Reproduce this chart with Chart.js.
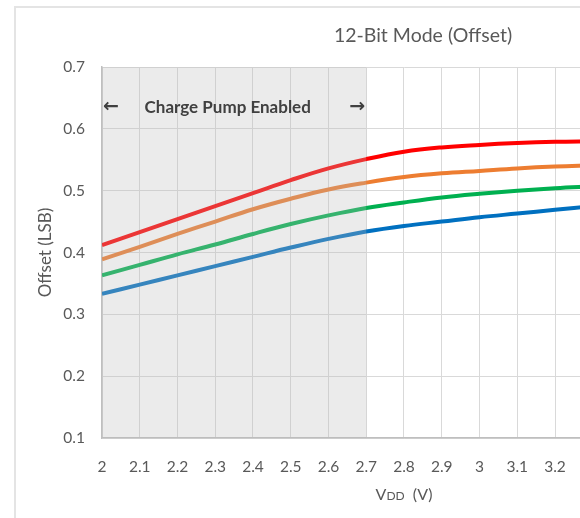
<!DOCTYPE html>
<html>
<head>
<meta charset="utf-8">
<script src="https://cdn.jsdelivr.net/npm/chart.js@4.4.1/dist/chart.umd.min.js"></script>
<style>
  html, body { margin: 0; padding: 0; background: #fff; overflow: hidden; }
  #frame { position: absolute; left: 14px; top: 6px; width: 814px; height: 560px; border: 2px solid #E4E4E4; }
  canvas { display: block; }
</style>
</head>
<body>
<div id="frame"><canvas id="chart1" width="814" height="560"></canvas></div>
<script>
const vdd = [2.0, 2.1, 2.2, 2.3, 2.4, 2.5, 2.6, 2.7, 2.8, 2.9, 3.0, 3.1, 3.2, 3.3];
const redSeries    = [0.412, 0.433, 0.454, 0.475, 0.496, 0.517, 0.536, 0.551, 0.563, 0.570, 0.574, 0.577, 0.579, 0.580];
const orangeSeries = [0.389, 0.409, 0.430, 0.450, 0.470, 0.487, 0.502, 0.513, 0.522, 0.528, 0.532, 0.536, 0.539, 0.541];
const greenSeries  = [0.363, 0.380, 0.397, 0.413, 0.430, 0.446, 0.460, 0.472, 0.481, 0.489, 0.495, 0.500, 0.504, 0.507];
const blueSeries   = [0.333, 0.348, 0.363, 0.378, 0.393, 0.408, 0.422, 0.434, 0.443, 0.450, 0.457, 0.463, 0.469, 0.475];

const shadeFrom = 2.0;
const shadeTo = 2.7;
const shadeLabel = "Charge Pump Enabled";

const FONT = "Lato, 'Open Sans', sans-serif";
const GREY = "#595959";

function pts(ys) {
  return vdd.map((v, i) => ({ x: v, y: ys[i] }));
}

function series(label, ys, color) {
  return {
    label: label,
    data: pts(ys),
    borderColor: color,
    borderWidth: 4,
    pointRadius: 0,
    fill: false,
    tension: 0.4,
  };
}

// grey box over the charge pump range, plus its label and the x axis title
const shadePlugin = {
  id: "shade",
  afterDatasetsDraw(chart) {
    const { ctx, chartArea, scales } = chart;
    const x0 = scales.x.getPixelForValue(shadeFrom);
    const x1 = scales.x.getPixelForValue(shadeTo);
    ctx.save();
    ctx.fillStyle = "rgba(187,187,187,0.29)";
    ctx.fillRect(x0, chartArea.top, x1 - x0, chartArea.bottom - chartArea.top);

    const ty = scales.y.getPixelForValue(0.635);
    ctx.fillStyle = "#404040";
    ctx.textBaseline = "middle";
    ctx.font = "bold 17px " + FONT;
    ctx.textAlign = "center";
    ctx.fillText(shadeLabel, scales.x.getPixelForValue(2.333), ty);
    ctx.font = "bold 19px 'DejaVu Sans', sans-serif";
    ctx.textAlign = "left";
    ctx.fillText("\u2190", x0 + 1, ty);
    ctx.textAlign = "right";
    ctx.fillText("\u2192", x1 - 1, ty);

    // x axis title, VDD with small caps DD
    const cx = (chartArea.left + chartArea.right) / 2;
    const cy = chartArea.bottom + 62;
    const big = "16px " + FONT, small = "12px " + FONT;
    ctx.fillStyle = GREY;
    ctx.textBaseline = "alphabetic";
    ctx.textAlign = "left";
    ctx.font = big; const wV = ctx.measureText("V").width; const wR = ctx.measureText("  (V)").width;
    ctx.font = small; const wD = ctx.measureText("DD").width;
    const sx = cx - (wV + wD + wR) / 2;
    ctx.font = big; ctx.fillText("V", sx, cy);
    ctx.font = small; ctx.fillText("DD", sx + wV, cy);
    ctx.font = big; ctx.fillText("  (V)", sx + wV + wD, cy);
    ctx.restore();
  }
};

const ctx = document.getElementById("chart1");

new Chart(ctx, {
  type: "line",
  data: {
    datasets: [
      series("Series 1", redSeries, "#FF0000"),
      series("Series 2", orangeSeries, "#ED7D31"),
      series("Series 3", greenSeries, "#00B050"),
      series("Series 4", blueSeries, "#0070C0"),
    ],
  },
  options: {
    responsive: false,
    animation: false,
    events: [],
    layout: { padding: { left: 0, right: 0, top: 0, bottom: 70 } },
    plugins: {
      legend: { display: false },
      tooltip: { enabled: false },
      title: {
        display: true,
        text: "12-Bit Mode (Offset)",
        color: GREY,
        font: { family: FONT, size: 19.5, weight: "normal" },
        padding: { top: 16, bottom: 19.6 },
      },
    },
    scales: {
      x: {
        type: "linear",
        min: 2,
        max: 3.6,
        afterFit(scale) { scale.height = 60; },
        border: { color: "#BFBFBF", width: 1.5 },
        grid: { color: "#D9D9D9", drawTicks: false },
        ticks: {
          stepSize: 0.1,
          padding: 20,
          color: GREY,
          font: { family: FONT, size: 15.5 },
          maxRotation: 0,
          autoSkip: false,
          callback: (v) => String(parseFloat(v.toFixed(1))),
        },
      },
      y: {
        min: 0.1,
        max: 0.7,
        afterFit(scale) { scale.width = 86; },
        border: { color: "#BFBFBF", width: 1.5 },
        grid: { color: "#D9D9D9", drawTicks: false },
        ticks: {
          stepSize: 0.1,
          padding: 17,
          color: GREY,
          font: { family: FONT, size: 15.5 },
          callback: (v) => v.toFixed(1),
        },
        title: {
          display: true,
          text: "Offset (LSB)",
          color: GREY,
          font: { family: FONT, size: 17 },
          padding: { top: 19, bottom: 0 },
        },
      },
      // empty space on the right, where the full chart kept its legend
      spacer: {
        position: "right",
        afterFit(scale) { scale.width = 124; },
        grid: { display: false, drawTicks: false },
        border: { display: false },
        ticks: { display: false },
      },
    },
  },
  plugins: [shadePlugin],
});
</script>
</body>
</html>
